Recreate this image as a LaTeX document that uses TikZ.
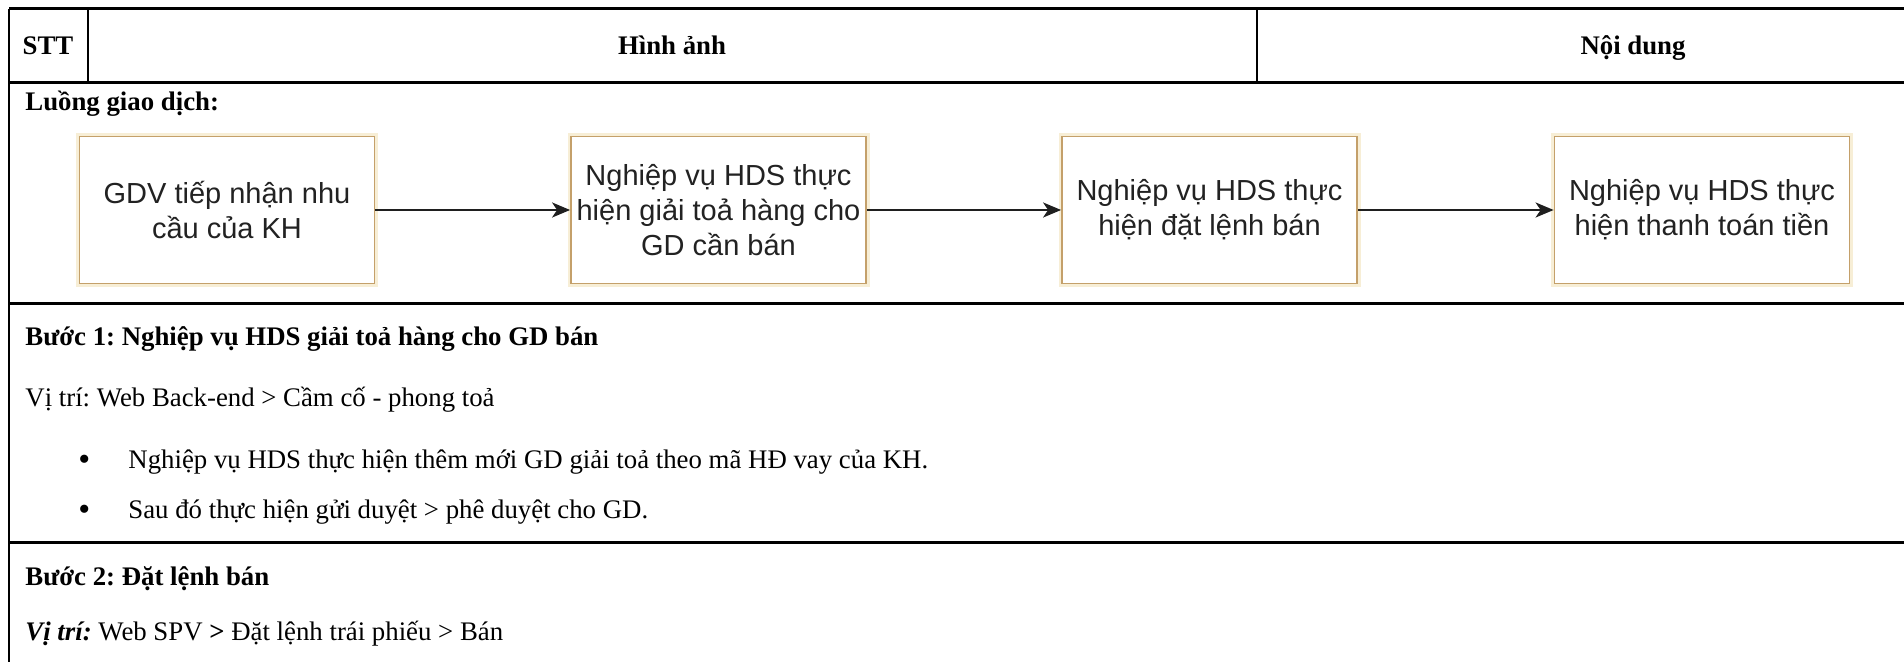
\documentclass[tikz,border=0pt]{standalone}
\usepackage{fontspec}
\setmainfont{Liberation Serif}
\newfontfamily\boxfont{Liberation Sans}
\usetikzlibrary{arrows.meta}
\definecolor{boxedge}{HTML}{C4A06A}
\definecolor{boxglow}{HTML}{F7EED6}
\definecolor{boxtext}{HTML}{222222}
\frenchspacing
\begin{document}
\begin{tikzpicture}[x=0.5pt,y=-0.5pt,
  hline/.style={line width=1.5pt,black},
  vline/.style={line width=0.8pt,black},
  bodytxt/.style={anchor=base west,inner sep=0pt,font=\fontsize{13.4}{16}\selectfont},
  boldtxt/.style={bodytxt,font=\fontsize{13.4}{16}\selectfont\bfseries},
  headtxt/.style={anchor=base,inner sep=0pt,font=\fontsize{13.4}{16}\selectfont\bfseries},
  bulletmark/.style={anchor=base west,inner sep=0pt,font=\fontsize{17}{18}\selectfont},
  flowbox/.style={draw=boxedge,fill=white,line width=0.9pt,
    preaction={draw=boxglow,line width=3.5pt},
    minimum width=147.5pt,minimum height=73.5pt,align=center,text=boxtext,
    font=\boxfont\fontsize{14.5}{17.5}\selectfont,inner sep=0pt},
  flowarrow/.style={line width=1.1pt,black!88,-{Stealth[length=9pt,width=7.5pt,inset=2.5pt]}}
]
\useasboundingbox (0,0) rectangle (1904,662);
% table rules
\draw[hline] (9,9) -- (1904,9);
\draw[hline] (9,83) -- (1904,83);
\draw[hline] (9,304) -- (1904,304);
\draw[hline] (9,542) -- (1904,542);
\draw[vline] (9,9) -- (9,662);
\draw[vline] (88,9) -- (88,83);
\draw[vline] (1257,9) -- (1257,83);
% header
\node[headtxt] (stt) at (48,55) {STT};
\node[headtxt] (hinh) at (672,55) {Hình ảnh};
\node[headtxt] (noidung) at (1633,55) {Nội dung};
% flow row
\node[boldtxt] (luong) at (25,111) {Luồng giao dịch:};
\node[flowbox] (b1) at (227,210) {GDV tiếp nhận nhu\\cầu của KH};
\node[flowbox] (b2) at (718.5,210) {Nghiệp vụ HDS thực\\hiện giải toả hàng cho\\GD cần bán};
\node[flowbox] (b3) at (1209.5,210) {Nghiệp vụ HDS thực\\hiện đặt lệnh bán};
\node[flowbox] (b4) at (1702,210) {Nghiệp vụ HDS thực\\hiện thanh toán tiền};
\draw[flowarrow] (b1) -- (b2);
\draw[flowarrow] (b2) -- (b3);
\draw[flowarrow] (b3) -- (b4);
% step 1
\node[boldtxt] (buoc1) at (25,345) {Bước 1: Nghiệp vụ HDS giải toả hàng cho GD bán};
\node[bodytxt] (vitri1) at (25,406) {Vị trí: Web Back-end > Cầm cố - phong toả};
\node[bulletmark] (dot1) at (78,470) {•};
\node[bodytxt] (li1) at (128,468) {Nghiệp vụ HDS thực hiện thêm mới GD giải toả theo mã HĐ vay của KH.};
\node[bulletmark] (dot2) at (78,520) {•};
\node[bodytxt] (li2) at (128,518) {Sau đó thực hiện gửi duyệt > phê duyệt cho GD.};
% step 2
\node[boldtxt] (buoc2) at (25,585) {Bước 2: Đặt lệnh bán};
\node[bodytxt] (vitri2) at (25,640) {\textbf{\itshape Vị trí:} Web SPV \textbf{>} Đặt lệnh trái phiếu > Bán};
\end{tikzpicture}
\end{document}
